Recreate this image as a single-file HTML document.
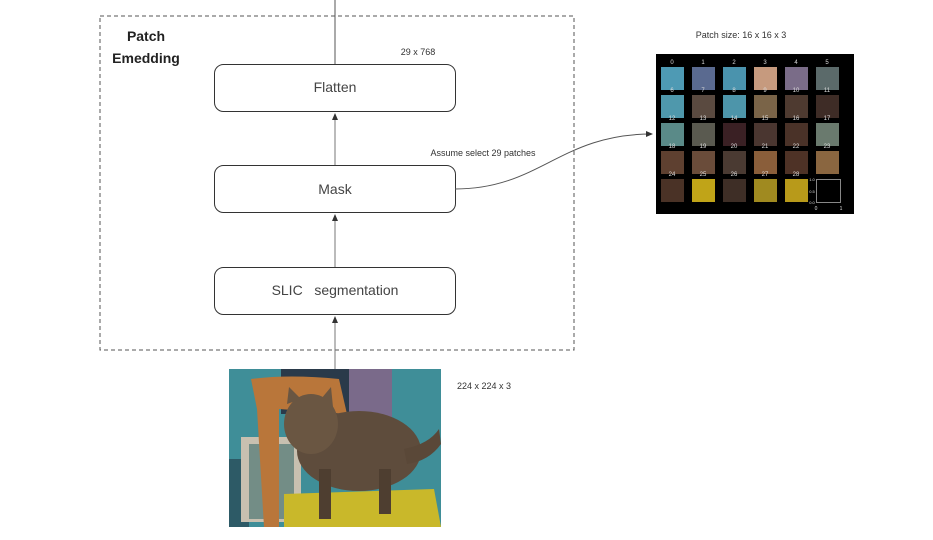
<!DOCTYPE html>
<html><head><meta charset="utf-8"><style>
html,body{margin:0;padding:0;background:#fff;}
svg{display:block;font-family:"Liberation Sans","DejaVu Sans",sans-serif;}
</style></head><body>
<svg width="933" height="540" viewBox="0 0 933 540" xmlns="http://www.w3.org/2000/svg">
<defs>
<marker id="ar" markerWidth="8" markerHeight="8" refX="6" refY="3" orient="auto" markerUnits="userSpaceOnUse"><path d="M0,0 L7,3 L0,6 Z" fill="#333"/></marker>
</defs>
<rect x="100" y="16" width="474" height="334" fill="none" stroke="#555" stroke-width="1" stroke-dasharray="4,3"/>
<text x="146" y="41" font-size="14" font-weight="bold" fill="#222" text-anchor="middle">Patch</text>
<text x="146" y="63" font-size="14" font-weight="bold" fill="#222" text-anchor="middle">Emedding</text>
<line x1="335" y1="0" x2="335" y2="64" stroke="#555"/>
<text x="418" y="55" font-size="9" fill="#333" text-anchor="middle">29 x 768</text>
<rect x="214.5" y="64.5" width="241" height="47" rx="9" fill="#fff" stroke="#333"/>
<text x="335" y="92" font-size="14" fill="#444" text-anchor="middle">Flatten</text>
<line x1="335" y1="165" x2="335" y2="114" stroke="#777" marker-end="url(#ar)"/>
<rect x="214.5" y="165.5" width="241" height="47" rx="9" fill="#fff" stroke="#333"/>
<text x="335" y="194" font-size="14" fill="#444" text-anchor="middle">Mask</text>
<line x1="335" y1="267" x2="335" y2="215" stroke="#777" marker-end="url(#ar)"/>
<rect x="214.5" y="267.5" width="241" height="47" rx="9" fill="#fff" stroke="#333"/>
<text x="335" y="295" font-size="14" fill="#444" text-anchor="middle">SLIC &#160; segmentation</text>
<line x1="335" y1="369" x2="335" y2="317" stroke="#777" marker-end="url(#ar)"/>
<text x="483" y="156" font-size="9" fill="#333" text-anchor="middle">Assume select 29 patches</text>
<path d="M455,189 C540,189 560,134 652,134" fill="none" stroke="#555" marker-end="url(#ar)"/>
<text x="484" y="389" font-size="9" fill="#333" text-anchor="middle">224 x 224 x 3</text>

<g transform="translate(229,369)">
<rect width="212" height="158" fill="#3f8e98"/>
<rect x="52" y="0" width="68" height="45" fill="#2a3a4a"/>
<rect x="120" y="0" width="43" height="55" fill="#7a6a8a"/>
<rect x="0" y="90" width="20" height="68" fill="#2d5a66"/>
<rect x="12" y="68" width="60" height="85" fill="#c8c0b0"/>
<rect x="20" y="75" width="45" height="75" fill="#3a6a6a" opacity="0.6"/>
<path d="M22,10 Q60,5 110,10 L118,45 L50,40 L50,158 L35,158 L28,40 Z" fill="#b9763a"/>
<path d="M55,125 L205,120 L212,158 L55,158 Z" fill="#c9b82a"/>
<ellipse cx="130" cy="82" rx="62" ry="40" fill="#5e4c3c"/>
<path d="M175,80 Q200,75 210,60 L212,75 Q200,92 178,95 Z" fill="#5a4838"/>
<rect x="90" y="100" width="12" height="50" fill="#4e3e30"/>
<rect x="150" y="100" width="12" height="45" fill="#4e3e30"/>
<ellipse cx="82" cy="55" rx="27" ry="30" fill="#6a5642"/>
<path d="M58,35 L60,18 L72,30 Z M92,30 L102,18 L104,38 Z" fill="#6a5642"/>
</g>

<text x="741" y="38" font-size="9" fill="#333" text-anchor="middle">Patch size: 16 x 16 x 3</text>
<rect x="656" y="54" width="198" height="160" fill="#000"/>
<g font-size="6" fill="#ddd" text-anchor="middle">
<rect x="661" y="67" width="23" height="23" fill="#4e9ab4"/><text x="672" y="64">0</text>
<rect x="692" y="67" width="23" height="23" fill="#5a6a90"/><text x="703" y="64">1</text>
<rect x="723" y="67" width="23" height="23" fill="#4a93ad"/><text x="734" y="64">2</text>
<rect x="754" y="67" width="23" height="23" fill="#c69a7e"/><text x="765" y="64">3</text>
<rect x="785" y="67" width="23" height="23" fill="#7a6c88"/><text x="796" y="64">4</text>
<rect x="816" y="67" width="23" height="23" fill="#5b6a6a"/><text x="827" y="64">5</text>
<rect x="661" y="95" width="23" height="23" fill="#4f98ac"/><text x="672" y="92">6</text>
<rect x="692" y="95" width="23" height="23" fill="#5a4a40"/><text x="703" y="92">7</text>
<rect x="723" y="95" width="23" height="23" fill="#4d95aa"/><text x="734" y="92">8</text>
<rect x="754" y="95" width="23" height="23" fill="#7a6448"/><text x="765" y="92">9</text>
<rect x="785" y="95" width="23" height="23" fill="#4e3a30"/><text x="796" y="92">10</text>
<rect x="816" y="95" width="23" height="23" fill="#3e2c26"/><text x="827" y="92">11</text>
<rect x="661" y="123" width="23" height="23" fill="#5a8a88"/><text x="672" y="120">12</text>
<rect x="692" y="123" width="23" height="23" fill="#5a5a50"/><text x="703" y="120">13</text>
<rect x="723" y="123" width="23" height="23" fill="#3a2024"/><text x="734" y="120">14</text>
<rect x="754" y="123" width="23" height="23" fill="#4a3630"/><text x="765" y="120">15</text>
<rect x="785" y="123" width="23" height="23" fill="#4a3228"/><text x="796" y="120">16</text>
<rect x="816" y="123" width="23" height="23" fill="#6a7a6e"/><text x="827" y="120">17</text>
<rect x="661" y="151" width="23" height="23" fill="#5e4030"/><text x="672" y="148">18</text>
<rect x="692" y="151" width="23" height="23" fill="#6a4c3a"/><text x="703" y="148">19</text>
<rect x="723" y="151" width="23" height="23" fill="#4a3a32"/><text x="734" y="148">20</text>
<rect x="754" y="151" width="23" height="23" fill="#8a5e3a"/><text x="765" y="148">21</text>
<rect x="785" y="151" width="23" height="23" fill="#4e3226"/><text x="796" y="148">22</text>
<rect x="816" y="151" width="23" height="23" fill="#8a6640"/><text x="827" y="148">23</text>
<rect x="661" y="179" width="23" height="23" fill="#4a3226"/><text x="672" y="176">24</text>
<rect x="692" y="179" width="23" height="23" fill="#c0a418"/><text x="703" y="176">25</text>
<rect x="723" y="179" width="23" height="23" fill="#3e2e26"/><text x="734" y="176">26</text>
<rect x="754" y="179" width="23" height="23" fill="#a08a20"/><text x="765" y="176">27</text>
<rect x="785" y="179" width="23" height="23" fill="#b89a1a"/><text x="796" y="176">28</text>
<rect x="816.5" y="179.5" width="24" height="23" fill="#000" stroke="#aaa" stroke-width="0.8"/>
<text x="812" y="181" font-size="4">1.0</text><text x="812" y="193" font-size="4">0.5</text><text x="812" y="204" font-size="4">0.0</text>
<text x="816" y="210" font-size="5">0</text><text x="841" y="210" font-size="5">1</text>
</g>
</svg>
</body></html>
